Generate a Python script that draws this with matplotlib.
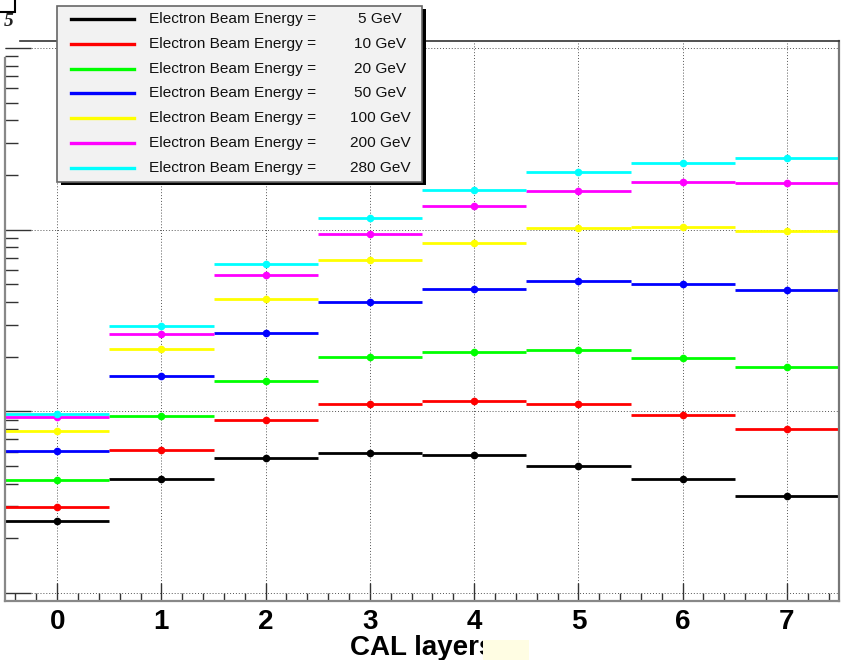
import matplotlib
matplotlib.use("Agg")
import matplotlib.pyplot as plt
from matplotlib.patches import Rectangle
from matplotlib.lines import Line2D
from matplotlib.ticker import MultipleLocator, LogLocator, NullFormatter

W, H = 846, 660

layers = [0, 1, 2, 3, 4, 5, 6, 7]
energies = [5, 10, 20, 50, 100, 200, 280]
colors = ["#000000", "#ff0000", "#00ff00", "#0000ff", "#ffff00", "#ff00ff", "#00ffff"]

# energy deposited per CAL layer, one list per beam energy
e5 = [249, 423, 551, 588, 575, 498, 426, 342]
e10 = [299, 615, 892, 1093, 1140, 1093, 958, 802]
e20 = [419, 946, 1469, 1991, 2121, 2184, 1966, 1754]
e50 = [605, 1559, 2700, 4013, 4695, 5195, 5022, 4636]
e100 = [779, 2203, 4137, 6766, 8446, 10174, 10344, 9870]
e200 = [927, 2655, 5651, 9502, 13500, 16260, 18366, 18134]
e280 = [963, 2938, 6447, 11596, 16534, 20846, 23363, 24900]
series = [e5, e10, e20, e50, e100, e200, e280]

tick_labels = [str(l) for l in layers]


def fx(px):
    return px / W


def fy(py):
    return 1 - py / H


fig = plt.figure(figsize=(W / 100, H / 100), dpi=100)
ax = fig.add_axes([fx(5), fy(601), fx(839) - fx(5), fy(41) - fy(601)])

for vals, col in zip(series, colors):
    ax.errorbar(layers, vals, xerr=0.5, fmt="o", color=col, ms=5.5,
                elinewidth=2, capsize=0, mew=0)

ax.set_yscale("log")
ax.set_xlim(-0.5, 7.5)
ax.set_ylim(10 ** 1.956, 10 ** 5.0385)

ax.xaxis.set_major_locator(MultipleLocator(1))
ax.xaxis.set_minor_locator(MultipleLocator(0.2))
ax.set_xticks(layers)
ax.set_xticklabels(tick_labels)
ax.yaxis.set_major_locator(LogLocator(base=10))
ax.yaxis.set_minor_locator(LogLocator(base=10, subs=range(2, 10)))
ax.yaxis.set_minor_formatter(NullFormatter())

ax.grid(True, which="major", linestyle=(0, (1, 2)), color="#555555", linewidth=0.7)
ax.set_axisbelow(True)

ax.tick_params(axis="x", which="major", direction="in", length=13, width=1,
               color="#333333", pad=6, labelsize=20)
ax.tick_params(axis="x", which="minor", direction="in", length=6, width=1, color="#333333")
ax.tick_params(axis="y", which="major", direction="in", length=19, width=1,
               color="#333333", labelleft=False)
ax.tick_params(axis="y", which="minor", direction="in", length=9, width=1, color="#333333")
for lab in ax.get_xticklabels():
    lab.set_fontfamily("Liberation Sans")
    lab.set_fontweight("bold")

# axis title placed by hand just under the tick labels
fig.text(fx(422), fy(655), "CAL layers", fontsize=20, fontweight="bold",
         family="Liberation Sans", ha="center", va="baseline")

for side in ("left", "bottom"):
    ax.spines[side].set_color("#888888")
    ax.spines[side].set_linewidth(1.6)
ax.spines["right"].set_color("#777777")
ax.spines["right"].set_linewidth(1.6)
ax.spines["top"].set_color("#333333")
ax.spines["top"].set_linewidth(1.2)
ax.spines["left"].set_bounds(10 ** 1.956, 10 ** 4.945)
ax.spines["top"].set_bounds(-0.356, 7.5)

# legend box with drop shadow
lx0, lx1, ly0, ly1 = 57, 422, 6, 182
fig.patches.append(Rectangle((fx(lx0 + 4), fy(ly1 + 3)), fx(lx1 - lx0), fy(ly0) - fy(ly1),
                             transform=fig.transFigure, facecolor="black",
                             edgecolor="none", zorder=5))
fig.patches.append(Rectangle((fx(lx0), fy(ly1)), fx(lx1 - lx0), fy(ly0) - fy(ly1),
                             transform=fig.transFigure, facecolor="#f2f2f2",
                             edgecolor="#666666", linewidth=1.2, zorder=6))
for i, (en, col) in enumerate(zip(energies, colors)):
    yy = fy(19 + i * 24.8)
    fig.lines.append(Line2D([fx(71), fx(134)], [yy, yy], color=col, lw=2.4,
                            transform=fig.transFigure, zorder=7))
    fig.text(fx(149), yy, "Electron Beam Energy =", fontsize=11.1,
             family="Liberation Sans", color="#111111", va="center", zorder=8)
    fig.text(fx(380), yy, f"{en} GeV", fontsize=11.1, family="Liberation Sans",
             color="#111111", va="center", ha="center", zorder=8)

# leftover corner box and exponent from the axis labelling
fig.patches.append(Rectangle((fx(-10), fy(12)), fx(25), fx(30), transform=fig.transFigure,
                             facecolor="none", edgecolor="black", linewidth=1.5, zorder=5))
fig.text(fx(4), fy(21), "5", fontsize=14, style="italic", fontweight="bold",
         family="Liberation Serif", color="#222222", va="center")

# pale patch over the end of the axis title
fig.patches.append(Rectangle((fx(483), fy(660)), fx(46), fy(640) - fy(660),
                             transform=fig.transFigure, facecolor="#fffde3",
                             edgecolor="none", zorder=10))

fig.savefig("out.png", dpi=100)
